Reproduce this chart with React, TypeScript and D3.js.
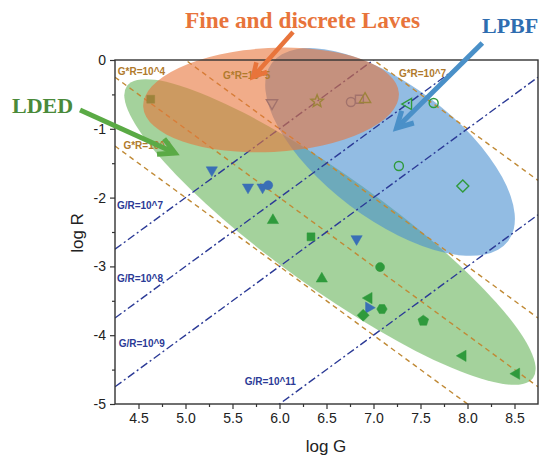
import * as d3 from 'd3'
import { useEffect, useRef } from 'react'

const W = 541
const H = 456
const PLOT = { left: 115, right: 538, top: 60, bottom: 404 }

const G_DOMAIN = [4.25, 8.75]
const R_DOMAIN = [-5, 0]
const X_TICKS = [4.5, 5.0, 5.5, 6.0, 6.5, 7.0, 7.5, 8.0, 8.5]
const Y_TICKS = [0, -1, -2, -3, -4, -5]

// iso lines: log G + log R = c (cooling rate) and log G - log R = k (G/R)
const GR_PRODUCT = [3, 4, 5, 7]
const GR_RATIO = [7, 8, 9, 11]
const PRODUCT_LABELS = ['G*R=10^4', 'G*R=10^3', 'G*R=10^5', 'G*R=10^7']
const PRODUCT_LABEL_AT = [[4.28, -0.22], [4.34, -1.29], [5.40, -0.27], [7.27, -0.24]]
const RATIO_LABELS = ['G/R=10^7', 'G/R=10^8', 'G/R=10^9', 'G/R=10^11']
const RATIO_LABEL_AT = [[4.27, -2.16], [4.27, -3.23], [4.29, -4.17], [5.63, -4.72]]

// data points
const ptG = [4.63, 5.28, 5.665, 5.82, 5.88, 5.93, 6.335, 6.82, 7.07, 6.45, 6.95, 6.95, 6.89, 7.09, 7.53, 7.95, 8.52,
  5.92, 6.40, 6.76, 6.85, 6.91, 7.37, 7.64, 7.27, 7.95]
const ptR = [-0.57, -1.60, -1.85, -1.85, -1.82, -2.33, -2.57, -2.60, -3.01, -3.18, -3.46, -3.60, -3.71, -3.62, -3.79, -4.30, -4.56,
  -0.625, -0.60, -0.61, -0.57, -0.57, -0.64, -0.625, -1.54, -1.83]
const ptShape = ['square', 'down', 'down', 'down', 'circle', 'up', 'square', 'down', 'circle', 'up', 'left', 'right', 'diamond', 'hexagon', 'pentagon', 'left', 'left',
  'down', 'star', 'circle', 'square', 'up', 'left', 'circle', 'circle', 'diamond']
const ptSeries = ['g', 'b', 'b', 'b', 'b', 'g', 'g', 'b', 'g', 'g', 'g', 'b', 'g', 'g', 'g', 'g', 'g',
  'b', 'g', 'b', 'b', 'g', 'g', 'g', 'g', 'g']
const ptFilled = [true, true, true, true, true, true, true, true, true, true, true, true, true, true, true, true, true,
  false, false, false, false, false, false, false, false, false]

// process regions: center (logG, logR), semi-axes in logG / logR units, tilt in degrees
const regionNames = ['LDED', 'LPBF', 'Laves']
const regionCenter = [[6.537, -2.50], [7.176, -1.337], [5.91, -0.581]]
const regionAxes = [[2.66, 0.814], [1.574, 0.974], [1.362, 0.756]]
const regionTilt = [35.7, 37, -3]
const regionFill = ['#5aad4a', '#4a90d0', '#e8743b']
const regionAlpha = [0.55, 0.6, 0.6]

const SERIES_COLOR: Record<string, string> = { g: '#2f9a3c', b: '#3a6fb6' }
const PRODUCT_COLOR = '#c08a36'
const RATIO_COLOR = '#2b3a96'

function polygon(n: number, r: number, rotDeg: number) {
  const pts: [number, number][] = d3.range(n).map(i => {
    const a = (rotDeg + (360 / n) * i) * Math.PI / 180
    return [r * Math.cos(a), r * Math.sin(a)]
  })
  return d3.line()(pts) + 'Z'
}

function starPath(ro: number, ri: number) {
  const pts: [number, number][] = d3.range(10).map(i => {
    const a = (-90 + 36 * i) * Math.PI / 180
    const r = i % 2 === 0 ? ro : ri
    return [r * Math.cos(a), r * Math.sin(a)]
  })
  return d3.line()(pts) + 'Z'
}

function shapePath(shape: string) {
  switch (shape) {
    case 'up': return polygon(3, 6.5, -90)
    case 'down': return polygon(3, 6.5, 90)
    case 'left': return polygon(3, 6.5, 180)
    case 'right': return polygon(3, 6.5, 0)
    case 'square': return polygon(4, 5.6, 45)
    case 'diamond': return polygon(4, 6, 0)
    case 'pentagon': return polygon(5, 5.6, -90)
    case 'hexagon': return polygon(6, 5.2, 0)
    case 'star': return starPath(6.5, 2.8)
    default: return d3.symbol(d3.symbolCircle, 64)() as string
  }
}

export default function App() {
  const svgRef = useRef<SVGSVGElement>(null)

  useEffect(() => {
    if (!svgRef.current) return
    const svg = d3.select(svgRef.current)
    svg.selectAll('*').remove()

    const x = d3.scaleLinear().domain(G_DOMAIN).range([PLOT.left, PLOT.right])
    const y = d3.scaleLinear().domain(R_DOMAIN).range([PLOT.bottom, PLOT.top])

    svg.append('defs').append('clipPath').attr('id', 'plot-clip')
      .append('rect')
      .attr('x', PLOT.left).attr('y', PLOT.top)
      .attr('width', PLOT.right - PLOT.left).attr('height', PLOT.bottom - PLOT.top)

    const drawRegion = (i: number) => {
      const [cg, cr] = regionCenter[i]
      const [ag, ar] = regionAxes[i]
      svg.append('ellipse')
        .attr('cx', x(cg)).attr('cy', y(cr))
        .attr('rx', x(cg + ag) - x(cg))
        .attr('ry', y(cr) - y(cr + ar))
        .attr('transform', `rotate(${regionTilt[i]} ${x(cg)} ${y(cr)})`)
        .attr('fill', regionFill[i])
        .attr('fill-opacity', regionAlpha[i])
    }

    // LDED and LPBF regions sit under the points
    drawRegion(0)
    drawRegion(1)

    // iso lines
    const lines = svg.append('g').attr('clip-path', 'url(#plot-clip)')
    const line = d3.line<number>().x(d => x(d))
    lines.selectAll('.prod')
      .data(GR_PRODUCT)
      .enter()
      .append('path')
      .attr('d', c => line.y(g => y(c - g))(G_DOMAIN))
      .attr('fill', 'none')
      .attr('stroke', PRODUCT_COLOR)
      .attr('stroke-width', 1.4)
      .attr('stroke-dasharray', '5 4')
    lines.selectAll('.ratio')
      .data(GR_RATIO)
      .enter()
      .append('path')
      .attr('d', k => line.y(g => y(g - k))(G_DOMAIN))
      .attr('fill', 'none')
      .attr('stroke', RATIO_COLOR)
      .attr('stroke-width', 1.4)
      .attr('stroke-dasharray', '8 3 2 3')

    // points
    const pts = svg.append('g')
    ptG.forEach((g, i) => {
      const col = SERIES_COLOR[ptSeries[i]]
      pts.append('path')
        .attr('d', shapePath(ptShape[i]))
        .attr('transform', `translate(${x(g)},${y(ptR[i])})`)
        .attr('fill', ptFilled[i] ? col : 'none')
        .attr('stroke', col)
        .attr('stroke-width', ptFilled[i] ? 0.5 : 1.4)
    })

    // Laves region on top (tints the points below it)
    drawRegion(2)

    // line labels
    const lab = svg.append('g')
      .attr('font-family', '"Liberation Sans", Arial, sans-serif')
      .attr('font-size', 10)
      .attr('font-weight', 'bold')
    PRODUCT_LABELS.forEach((t, i) => {
      lab.append('text')
        .attr('x', x(PRODUCT_LABEL_AT[i][0])).attr('y', y(PRODUCT_LABEL_AT[i][1]))
        .attr('fill', '#b07a2c')
        .text(t)
    })
    RATIO_LABELS.forEach((t, i) => {
      lab.append('text')
        .attr('x', x(RATIO_LABEL_AT[i][0])).attr('y', y(RATIO_LABEL_AT[i][1]))
        .attr('fill', RATIO_COLOR)
        .text(t)
    })

    // frame
    svg.append('rect')
      .attr('x', PLOT.left).attr('y', PLOT.top)
      .attr('width', PLOT.right - PLOT.left).attr('height', PLOT.bottom - PLOT.top)
      .attr('fill', 'none')
      .attr('stroke', '#333')
      .attr('stroke-width', 1.4)

    // axes
    const xAxis = svg.append('g')
      .attr('transform', `translate(0,${PLOT.bottom})`)
      .call(d3.axisBottom(x).tickValues(X_TICKS).tickSize(5).tickPadding(4).tickFormat(d3.format('.1f')))
    xAxis.append('g')
      .call(d3.axisBottom(x).tickValues(X_TICKS.map(v => v + 0.25).filter(v => v < 8.75)).tickSize(3).tickFormat(() => ''))
    const yAxis = svg.append('g')
      .attr('transform', `translate(${PLOT.left},0)`)
      .call(d3.axisLeft(y).tickValues(Y_TICKS).tickSize(5).tickPadding(4).tickFormat(d => `${d}`))
    yAxis.append('g')
      .call(d3.axisLeft(y).tickValues(Y_TICKS.slice(1).map(v => v + 0.5)).tickSize(3).tickFormat(() => ''))
    svg.selectAll('.domain').remove()
    svg.selectAll('.tick line').attr('stroke', '#333').attr('stroke-width', 1.2)
    svg.selectAll('.tick text')
      .attr('font-family', '"Liberation Sans", Arial, sans-serif')
      .attr('font-size', 14)
      .attr('fill', '#222')

    svg.append('text')
      .attr('x', 326).attr('y', 452)
      .attr('text-anchor', 'middle')
      .attr('font-family', '"Liberation Sans", Arial, sans-serif')
      .attr('font-size', 17)
      .attr('fill', '#222')
      .text('log G')
    svg.append('text')
      .attr('transform', 'translate(83,233) rotate(-90)')
      .attr('text-anchor', 'middle')
      .attr('font-family', '"Liberation Sans", Arial, sans-serif')
      .attr('font-size', 17)
      .attr('fill', '#222')
      .text('log R')

    // arrows with chevron heads
    const arrow = (from: [number, number], to: [number, number], color: string, width: number, head: number) => {
      const x0 = x(from[0]), y0 = y(from[1]), x1 = x(to[0]), y1 = y(to[1])
      const ang = Math.atan2(y1 - y0, x1 - x0)
      const h1: [number, number] = [x1 - head * Math.cos(ang - 0.5), y1 - head * Math.sin(ang - 0.5)]
      const h2: [number, number] = [x1 - head * Math.cos(ang + 0.5), y1 - head * Math.sin(ang + 0.5)]
      const g = svg.append('g').attr('stroke', color).attr('stroke-width', width).attr('fill', 'none')
      g.append('path').attr('d', d3.line()([[x0, y0], [x1, y1]]))
      g.append('path').attr('d', d3.line()([h1, [x1, y1], h2])).attr('stroke-linejoin', 'miter')
    }
    arrow([6.144, 0.407], [5.718, -0.247], '#e8743b', 4.5, 15)
    arrow([8.158, 0.247], [7.245, -0.988], '#4a90c8', 5, 18)
    arrow([3.878, -0.727], [4.888, -1.352], '#5aaa45', 5, 18)

    // region titles
    const title = svg.append('g')
      .attr('font-family', '"Liberation Serif", "Times New Roman", serif')
      .attr('font-weight', 'bold')
      .attr('font-size', 22)
    title.append('text').attr('x', 185).attr('y', 28).attr('fill', '#e8743b')
      .attr('font-size', 23).attr('textLength', 235).attr('lengthAdjust', 'spacingAndGlyphs')
      .text('Fine and discrete Laves')
    title.append('text').attr('x', 482).attr('y', 33).attr('fill', '#2e6db0').text(regionNames[1])
    title.append('text').attr('x', 12).attr('y', 113).attr('fill', '#4a8a3a').text(regionNames[0])
  }, [])

  return (
    <svg
      ref={svgRef}
      width={W}
      height={H}
      style={{ position: 'absolute', left: 0, top: 0, background: '#fff' }}
    />
  )
}
